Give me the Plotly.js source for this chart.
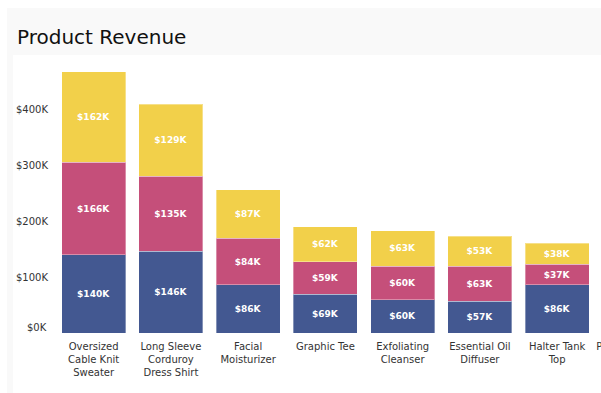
<!DOCTYPE html>
<html>
<head>
<meta charset="utf-8">
<script src="https://cdn.plot.ly/plotly-3.0.1.min.js"></script>
<style>
  html, body { margin:0; padding:0; background:#ffffff; width:601px; height:393px; overflow:hidden; }
  #card { position:absolute; left:7px; top:8px; width:820px; height:420px; background:#f9f9f9; }
  #title { position:absolute; left:10px; top:19px; font-family:'DejaVu Sans', Verdana, sans-serif; font-size:20px; line-height:20px; color:#111; white-space:nowrap; }
  #chart { position:absolute; left:6px; top:47px; width:690px; height:338px; background:#ffffff; }
</style>
</head>
<body>
<div id="card">
  <div id="title">Product Revenue</div>
  <div id="chart"></div>
</div>
<script>
// Data (values in $K)
const categories = [
  "Oversized<br>Cable Knit<br>Sweater",
  "Long Sleeve<br>Corduroy<br>Dress Shirt",
  "Facial<br>Moisturizer",
  "Graphic Tee",
  "Exfoliating<br>Cleanser",
  "Essential Oil<br>Diffuser",
  "Halter Tank<br>Top",
  "Pajama Lounge<br>Set"
];
const seriesNames = ["Online", "Retail", "Wholesale"];
const bottomValues = [140, 146, 86, 69, 60, 57, 86, 70];
const middleValues = [166, 135, 84, 59, 60, 63, 37, 40];
const topValues    = [162, 129, 87, 62, 63, 53, 38, 35];
const seriesColors = ["#435891", "#c54f7a", "#f2d04a"];
const yTickVals = [0, 100, 200, 300, 400];
const yTickText = ["$0K", "$100K", "$200K", "$300K", "$400K"];

const FONT = "'DejaVu Sans', Verdana, sans-serif";
const allSeries = [bottomValues, middleValues, topValues];
const traces = allSeries.map((vals, i) => ({
  type: "bar",
  name: seriesNames[i],
  x: categories,
  y: vals,
  text: vals.map(v => "$" + v + "K"),
  textposition: "inside",
  insidetextanchor: "middle",
  textfont: { family: FONT, size: 9, color: "#ffffff", weight: "bold" },
  hoverinfo: "skip",
  marker: { color: seriesColors[i], line: { color: "rgba(255,255,255,0.35)", width: 1 } }
}));

const layout = {
  barmode: "stack",
  bargap: 0.172,
  width: 690,
  height: 338,
  margin: { l: 42, r: 30, t: 5, b: 60 },
  paper_bgcolor: "#ffffff",
  plot_bgcolor: "#ffffff",
  showlegend: false,
  font: { family: FONT, size: 10, color: "#333" },
  xaxis: {
    type: "category",
    range: [-0.5, categories.length - 0.5],
    showgrid: false, zeroline: false, showline: false, ticks: "",
    tickfont: { family: FONT, size: 10, color: "#333" },
    ticklabelstandoff: 6,
    tickangle: 0,
    fixedrange: true
  },
  yaxis: {
    range: [0, 489],
    tickvals: yTickVals.slice(1),
    ticktext: yTickText.slice(1),
    showgrid: false, zeroline: false, showline: false, ticks: "",
    tickfont: { family: FONT, size: 10, color: "#333" },
    ticklabelstandoff: 6,
    fixedrange: true
  },
  annotations: [{
    xref: "paper", yref: "y", x: 0, y: yTickVals[0],
    text: yTickText[0], showarrow: false,
    xanchor: "right", yanchor: "middle",
    xshift: -6, yshift: 6,
    font: { family: FONT, size: 10, color: "#333" }
  }]
};

Plotly.newPlot("chart", traces, layout, { displayModeBar: false, staticPlot: true });
</script>
</body>
</html>
